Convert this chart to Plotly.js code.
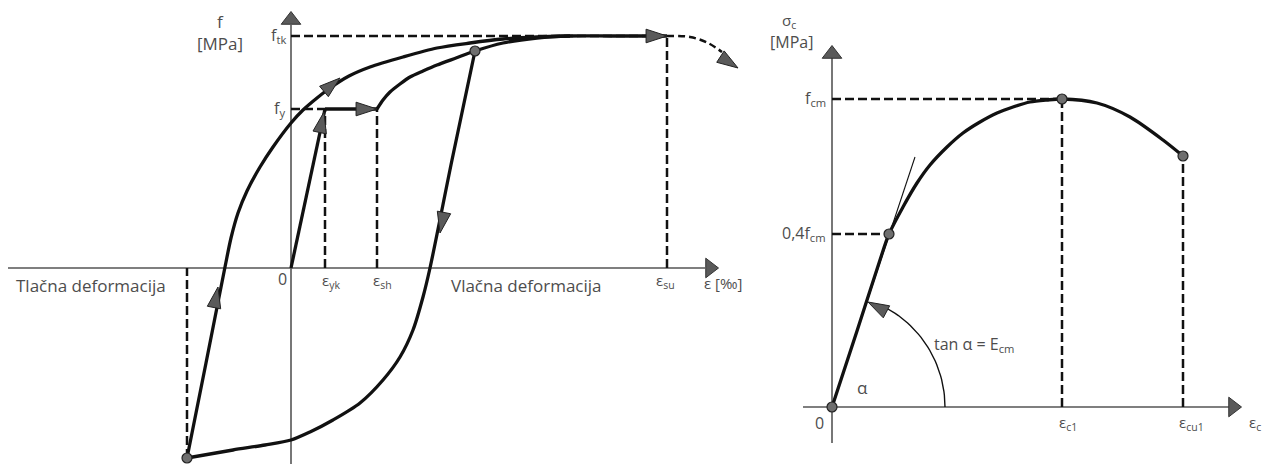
<!DOCTYPE html>
<html>
<head>
<meta charset="utf-8">
<script src="https://cdn.plot.ly/plotly-3.0.1.min.js"></script>
<style>html,body{margin:0;padding:0;background:#fff}#chart{width:1267px;height:464px}</style>
</head>
<body>
<div id="chart"></div>
<script>
// ---------- LEFT: reinforcing steel (schematic units) ----------
const loadX = [0, 34];
const loadY = [0, 159];
const plateauX = [34, 86];
const plateauY = [159, 159];
const hardenX = [86, 92, 99, 109, 119, 132, 146, 165, 184, 212, 246, 279, 320, 376];
const hardenY = [159, 168, 176, 184, 191, 197, 203, 210, 217, 225, 230, 232, 232, 232];
const unloadX = [184, 161, 139, 132, 122, 109, 92, 69, 42, 19, 0, -26, -58, -104];
const unloadY = [217, 108, 0, -29, -62, -89, -112, -135, -152, -164, -172, -177, -182, -190];
const reloadX = [-104, -85, -66, -60, -53, -44, -31, -18, 0, 12, 26, 39, 58, 79, 112, 146, 179, 212, 246, 279];
const reloadY = [-190, -95, 1, 30, 55, 77, 101, 121, 145, 158, 170, 180, 192, 201, 211, 220, 225, 229, 231, 232];
const tailX = [376, 399, 417, 431];
const tailY = [232, 231, 225, 216];
const steelPointsX = [184, -104];
const steelPointsY = [217, -190];
const fTk = 232, fY = 159, epsYk = 34, epsSh = 86, epsSu = 376, epsMin = -104, fMin = -190;
const steelArrowX = [33, 86, 376, 149, -73, 49, 447];
const steelArrowY = [156, 159, 232, 35, -19, 190, 200];
const steelArrowAngle = [12, 90, 90, 191, 11, 50, 123];
const steelLabels = ['f<sub>tk</sub>', 'f<sub>y</sub>', '0', 'ε<sub>yk</sub>', 'ε<sub>sh</sub>', 'ε<sub>su</sub>', 'ε [‰]'];

// ---------- RIGHT: concrete (schematic units) ----------
const concX = [0, 25, 48, 57, 71, 85, 98, 115, 131, 148, 165, 181, 198, 215, 230, 265, 298, 331, 351];
const concY = [0, 76, 147, 173, 200, 224, 242, 260, 274, 285, 294, 300, 305, 307, 308, 304, 290, 267, 251];
const concPointsX = [0, 57, 230, 351];
const concPointsY = [0, 173, 308, 251];
const tangentX = [0, 83];
const tangentY = [0, 250];
const fcm = 308, f04 = 173, eps04 = 57, epsC1 = 230, epsCu1 = 351, fCu1 = 251;
const arcRadius = 113, arcFromDeg = 0, arcToDeg = 62;
const arcArrowX = [36], arcArrowY = [105], arcArrowAngle = [-62];

const TXT = '#4d4d4d', AX = '#555555', INK = '#111111', FONT = 'Open Sans, DejaVu Sans, sans-serif';

const traces = [];
function line(x, y, xa, ya, opt) {
  opt = opt || {};
  traces.push({x: x, y: y, xaxis: xa, yaxis: ya, mode: 'lines', hoverinfo: 'skip',
    line: {color: opt.color || INK, width: opt.width || 3, dash: opt.dash || 'solid',
           shape: opt.spline ? 'spline' : 'linear', smoothing: opt.smoothing || 1}});
}
const DASH = '9px,4px';

// axes (left)
line([-283, 414], [0, 0], 'x', 'y', {color: AX, width: 1.6});
line([0, 0], [-196, 243], 'x', 'y', {color: AX, width: 1.6});
// dashed references (left)
line([0, epsSu], [fTk, fTk], 'x', 'y', {dash: DASH, width: 2.5});
line([0, epsYk], [fY, fY], 'x', 'y', {dash: DASH, width: 2.5});
line([epsYk, epsYk], [0, fY], 'x', 'y', {dash: DASH, width: 2.5});
line([epsSh, epsSh], [0, fY], 'x', 'y', {dash: DASH, width: 2.5});
line([epsSu, epsSu], [0, fTk], 'x', 'y', {dash: DASH, width: 2.5});
line([epsMin, epsMin], [fMin, 0], 'x', 'y', {dash: DASH, width: 2.5});
// curves (left)
line(loadX, loadY, 'x', 'y', {width: 3.3});
line(plateauX, plateauY, 'x', 'y', {width: 3.3});
line(hardenX, hardenY, 'x', 'y', {width: 3.3, spline: true, smoothing: 0.7});
line(unloadX, unloadY, 'x', 'y', {width: 3.3, spline: true, smoothing: 0.8});
line(reloadX, reloadY, 'x', 'y', {width: 3.3, spline: true, smoothing: 0.8});
line(tailX, tailY, 'x', 'y', {width: 2.5, dash: '7px,4px', spline: true});

// axes (right)
line([-29, 400], [0, 0], 'x2', 'y2', {color: AX, width: 1.6});
line([0, 0], [-36, 350], 'x2', 'y2', {color: AX, width: 1.6});
line([0, epsC1], [fcm, fcm], 'x2', 'y2', {dash: DASH, width: 2.5});
line([0, eps04], [f04, f04], 'x2', 'y2', {dash: DASH, width: 2.5});
line([epsC1, epsC1], [0, fcm], 'x2', 'y2', {dash: DASH, width: 2.5});
line([epsCu1, epsCu1], [0, fCu1], 'x2', 'y2', {dash: DASH, width: 2.5});
line(tangentX, tangentY, 'x2', 'y2', {width: 1.1});
line(concX, concY, 'x2', 'y2', {width: 3.3, spline: true, smoothing: 0.8});
// angle arc
const arcX = [], arcY = [];
for (let a = arcFromDeg; a <= arcToDeg; a += 2) {
  arcX.push(arcRadius * Math.cos(a * Math.PI / 180));
  arcY.push(arcRadius * Math.sin(a * Math.PI / 180));
}
line(arcX, arcY, 'x2', 'y2', {width: 1.4});

// arrowheads
function arrows(x, y, ang, xa, ya) {
  traces.push({x: x, y: y, xaxis: xa, yaxis: ya, mode: 'markers', hoverinfo: 'skip', cliponaxis: false,
    marker: {symbol: 'arrow', size: 22, angle: ang, color: '#5a5a5a', line: {color: '#222', width: 1}}});
}
arrows(steelArrowX, steelArrowY, steelArrowAngle, 'x', 'y');
arrows(arcArrowX, arcArrowY, arcArrowAngle, 'x2', 'y2');
// axis arrow tips
function tip(x, y, sym, xa, ya) {
  traces.push({x: x, y: y, xaxis: xa, yaxis: ya, mode: 'markers', hoverinfo: 'skip', cliponaxis: false,
    marker: {symbol: sym, size: 17, color: '#5a5a5a', line: {color: '#333', width: 1}}});
}
tip([0], [248], 'triangle-up', 'x', 'y');
tip([419], [0], 'triangle-right', 'x', 'y');
tip([0], [353], 'triangle-up', 'x2', 'y2');
tip([401], [0], 'triangle-right', 'x2', 'y2');

// points
function pts(x, y, xa, ya) {
  traces.push({x: x, y: y, xaxis: xa, yaxis: ya, mode: 'markers', hoverinfo: 'skip', cliponaxis: false,
    marker: {symbol: 'circle', size: 10, color: '#6e6e6e', line: {color: '#222', width: 1.2}}});
}
pts(steelPointsX, steelPointsY, 'x', 'y');
pts(concPointsX, concPointsY, 'x2', 'y2');

function ann(text, x, y, xa, ya, xanchor, size) {
  return {text: text, x: x, y: y, xref: xa, yref: ya, showarrow: false, xanchor: xanchor || 'center',
    yanchor: 'middle', font: {family: FONT, size: size || 16, color: TXT}};
}
const annotations = [
  ann('f', -71, 247, 'x', 'y', 'center', 17),
  ann('[MPa]', -71, 225, 'x', 'y', 'center', 17),
  ann(steelLabels[0], -3, 233, 'x', 'y', 'right'),
  ann(steelLabels[1], -4, 160, 'x', 'y', 'right'),
  ann(steelLabels[2], -9, -11, 'x', 'y'),
  ann(steelLabels[3], 29, -13, 'x', 'y', 'left', 15),
  ann(steelLabels[4], 80, -13, 'x', 'y', 'left', 15),
  ann(steelLabels[5], 363, -13, 'x', 'y', 'left', 15),
  ann(steelLabels[6], 411, -15, 'x', 'y', 'left', 15),
  ann('Vlačna deformacija', 158, -17, 'x', 'y', 'left', 17),
  ann('Tlačna deformacija', -277, -17, 'x', 'y', 'left', 17),
  ann('σ<sub>c</sub>', -43, 386, 'x2', 'y2', 'center', 15),
  ann('[MPa]', -41, 365, 'x2', 'y2', 'center', 16),
  ann('f<sub>cm</sub>', -4, 309, 'x2', 'y2', 'right'),
  ann('0,4f<sub>cm</sub>', -4, 174, 'x2', 'y2', 'right'),
  ann('0', -13, -16, 'x2', 'y2'),
  ann('ε<sub>c1</sub>', 225, -16, 'x2', 'y2', 'left', 15),
  ann('ε<sub>cu1</sub>', 345, -16, 'x2', 'y2', 'left', 15),
  ann('ε<sub>c</sub>', 415, -16, 'x2', 'y2', 'left', 15),
  ann('α', 30, 20, 'x2', 'y2', 'center', 17),
  ann('tan α = E<sub>cm</sub>', 100, 63, 'x2', 'y2', 'left', 16)
];

const hidden = {visible: false, showgrid: false, zeroline: false, fixedrange: true};
const layout = {
  width: 1267, height: 464, margin: {l: 0, r: 0, t: 0, b: 0, pad: 0},
  paper_bgcolor: '#fff', plot_bgcolor: '#fff', showlegend: false,
  xaxis: Object.assign({domain: [0, 760 / 1267], range: [-291, 469], anchor: 'y'}, hidden),
  yaxis: Object.assign({domain: [0, 1], range: [-196, 268], anchor: 'x'}, hidden),
  xaxis2: Object.assign({domain: [760 / 1267, 1], range: [-72, 435], anchor: 'y2'}, hidden),
  yaxis2: Object.assign({domain: [0, 1], range: [-57, 407], anchor: 'x2'}, hidden),
  annotations: annotations
};
Plotly.newPlot('chart', traces, layout, {displayModeBar: false, staticPlot: true});
</script>
</body>
</html>
